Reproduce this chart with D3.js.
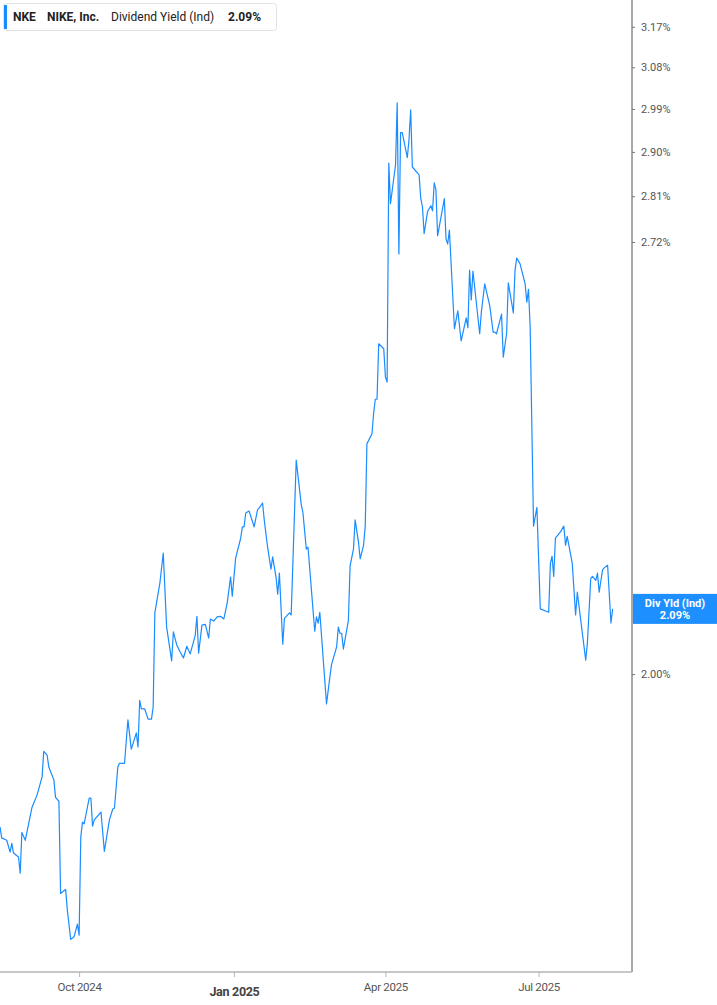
<!DOCTYPE html>
<html lang="en">
	<head>
		<meta charset="utf-8">
		<title>NKE - Dividend Yield (Ind)</title>
		<script src="https://d3js.org/d3.v7.min.js"></script>
		<style type="text/css">
			body {
				margin: 0;
				background: #fff;
			}
			* {
				font-family: Roboto, 'Open Sans', sans-serif;
			}
		</style>
	</head>

	<body>
		<script type="text/javascript">

			//Width and height
			var w = 717;
			var h = 1005;
			var plotRight = 632;
			var plotBottom = 972;

			//daily dividend yield (%)
			var dates = [
				"2024-08-15","2024-08-16","2024-08-19","2024-08-21","2024-08-22","2024-08-23","2024-08-26","2024-08-27","2024-08-28","2024-08-30",
				"2024-09-03","2024-09-06","2024-09-09","2024-09-10","2024-09-12","2024-09-13","2024-09-16","2024-09-17","2024-09-19","2024-09-20",
				"2024-09-23","2024-09-24","2024-09-26","2024-09-28","2024-09-30","2024-10-01","2024-10-02","2024-10-03","2024-10-04","2024-10-07",
				"2024-10-08","2024-10-09","2024-10-10","2024-10-14","2024-10-16","2024-10-19","2024-10-21","2024-10-22","2024-10-24","2024-10-25",
				"2024-10-28","2024-10-30","2024-11-01","2024-11-04","2024-11-05","2024-11-06","2024-11-07","2024-11-09","2024-11-11","2024-11-13",
				"2024-11-14","2024-11-15","2024-11-18","2024-11-20","2024-11-22","2024-11-25","2024-11-26","2024-11-28","2024-11-30","2024-12-02",
				"2024-12-04","2024-12-06","2024-12-09","2024-12-10","2024-12-11","2024-12-13","2024-12-15","2024-12-17","2024-12-18","2024-12-20",
				"2024-12-22","2024-12-24","2024-12-26","2024-12-28","2024-12-30","2024-12-31","2025-01-02","2025-01-05","2025-01-06","2025-01-07",
				"2025-01-08","2025-01-10","2025-01-13","2025-01-15","2025-01-16","2025-01-18","2025-01-19","2025-01-21","2025-01-23","2025-01-24",
				"2025-01-26","2025-01-27","2025-01-28","2025-01-30","2025-01-31","2025-02-03","2025-02-04","2025-02-07","2025-02-10","2025-02-11",
				"2025-02-13","2025-02-14","2025-02-18","2025-02-19","2025-02-20","2025-02-21","2025-02-25","2025-02-27","2025-02-28","2025-03-03",
				"2025-03-04","2025-03-05","2025-03-06","2025-03-07","2025-03-10","2025-03-11","2025-03-13","2025-03-14","2025-03-16","2025-03-17",
				"2025-03-19","2025-03-20","2025-03-21","2025-03-24","2025-03-25","2025-03-26","2025-03-27","2025-03-28","2025-03-31","2025-04-01",
				"2025-04-02","2025-04-03","2025-04-04","2025-04-07","2025-04-08","2025-04-09","2025-04-10","2025-04-11","2025-04-14","2025-04-15",
				"2025-04-16","2025-04-17","2025-04-21","2025-04-22","2025-04-23","2025-04-24","2025-04-26","2025-04-28","2025-04-29","2025-04-30",
				"2025-05-01","2025-05-02","2025-05-06","2025-05-07","2025-05-08","2025-05-09","2025-05-12","2025-05-14","2025-05-16","2025-05-19",
				"2025-05-20","2025-05-21","2025-05-22","2025-05-23","2025-05-27","2025-05-28","2025-05-30","2025-06-02","2025-06-04","2025-06-05",
				"2025-06-06","2025-06-09","2025-06-10","2025-06-12","2025-06-13","2025-06-16","2025-06-17","2025-06-18","2025-06-20","2025-06-23",
				"2025-06-24","2025-06-25","2025-06-26","2025-06-28","2025-06-30","2025-07-02","2025-07-07","2025-07-08","2025-07-09","2025-07-10",
				"2025-07-11","2025-07-14","2025-07-16","2025-07-17","2025-07-18","2025-07-21","2025-07-23","2025-07-24","2025-07-29","2025-07-30",
				"2025-08-01","2025-08-02","2025-08-04","2025-08-05","2025-08-06","2025-08-08","2025-08-09","2025-08-11","2025-08-13","2025-08-14"
			];

			var yields = [
				1.794,1.780,1.777,1.762,1.773,1.761,1.756,1.736,1.787,1.777,
				1.819,1.835,1.859,1.893,1.888,1.872,1.855,1.832,1.827,1.711,
				1.716,1.691,1.656,1.659,1.674,1.661,1.781,1.800,1.798,1.831,
				1.831,1.795,1.803,1.813,1.763,1.803,1.817,1.818,1.872,1.877,
				1.877,1.936,1.896,1.918,1.899,1.963,1.951,1.951,1.937,1.937,
				1.954,2.089,2.134,2.180,2.068,2.019,2.061,2.042,2.032,2.023,
				2.040,2.029,2.056,2.084,2.030,2.071,2.072,2.052,2.080,2.077,
				2.083,2.084,2.080,2.104,2.143,2.114,2.172,2.203,2.221,2.221,
				2.243,2.246,2.221,2.248,2.251,2.259,2.232,2.189,2.155,2.174,
				2.143,2.117,2.149,2.043,2.081,2.089,2.086,2.329,2.256,2.243,
				2.186,2.189,2.062,2.083,2.074,2.090,1.958,1.996,2.014,2.039,
				2.068,2.059,2.059,2.036,2.078,2.160,2.186,2.232,2.197,2.171,
				2.192,2.222,2.356,2.373,2.408,2.432,2.432,2.530,2.521,2.471,
				2.462,2.877,2.795,2.873,3.003,2.697,2.940,2.940,2.888,2.925,
				2.988,2.869,2.853,2.805,2.789,2.736,2.779,2.791,2.781,2.837,
				2.823,2.732,2.805,2.726,2.716,2.743,2.557,2.590,2.535,2.577,
				2.559,2.666,2.610,2.664,2.548,2.588,2.640,2.599,2.551,2.551,
				2.548,2.584,2.506,2.548,2.642,2.586,2.666,2.689,2.678,2.640,
				2.606,2.630,2.560,2.222,2.252,2.095,2.090,2.164,2.175,2.144,
				2.203,2.213,2.222,2.192,2.206,2.164,2.086,2.120,2.020,2.045,
				2.141,2.144,2.138,2.149,2.120,2.154,2.157,2.161,2.074,2.095
			];

			var yTickValues = [3.17, 3.08, 2.99, 2.90, 2.81, 2.72, 2.00];
			var xTickDates = ["2024-10-01", "2025-01-01", "2025-04-01", "2025-07-01"];
			var xTickLabels = ["Oct 2024", "Jan 2025", "Apr 2025", "Jul 2025"];

			var ticker = "NKE";
			var company = "NIKE, Inc.";
			var metric = "Dividend Yield (Ind)";
			var metricShort = "Div Yld (Ind)";
			var lastValue = 2.09;

			var lineColor = "#1a8cff";

			var parseDate = d3.timeParse("%Y-%m-%d");
			var data = dates.map(function(d, i) {
				return { date: parseDate(d), value: yields[i] };
			});

			var xScale = d3.scaleTime()
							.domain([parseDate("2024-08-15"), new Date(2025, 7, 25, 12)])
							.range([0, plotRight]);

			//log scale, the gaps between the price ticks grow towards the bottom
			var yScale = d3.scaleLog()
							.domain([1.618, 3.231])
							.range([plotBottom, 0]);

			//Create SVG element
			var svg = d3.select("body")
						.append("svg")
						.attr("width", w)
						.attr("height", h);

			svg.append("clipPath")
			   .attr("id", "plot-clip")
			   .append("rect")
			   .attr("x", 0)
			   .attr("y", 0)
			   .attr("width", plotRight)
			   .attr("height", plotBottom);

			//the yield line
			var line = d3.line()
						 .x(function(d) { return xScale(d.date); })
						 .y(function(d) { return yScale(d.value); });

			svg.append("path")
			   .datum(data)
			   .attr("clip-path", "url(#plot-clip)")
			   .attr("fill", "none")
			   .attr("stroke", lineColor)
			   .attr("stroke-width", 1.2)
			   .attr("stroke-linejoin", "round")
			   .attr("d", line);

			//right axis
			var yAxis = d3.axisRight(yScale)
						  .tickValues(yTickValues)
						  .tickSize(3)
						  .tickPadding(6)
						  .tickFormat(function(d) { return d.toFixed(2) + "%"; });

			var yAxisG = svg.append("g")
							.attr("transform", "translate(" + plotRight + ",0)")
							.call(yAxis);
			yAxisG.select(".domain")
				  .attr("stroke", "#8a8a8a")
				  .attr("stroke-width", 1.5)
				  .attr("d", "M0,0V" + plotBottom);
			yAxisG.selectAll(".tick line").attr("stroke", "#777");
			yAxisG.selectAll(".tick text")
				  .attr("fill", "#555")
				  .style("font-size", "11px");

			//bottom axis
			var xAxis = d3.axisBottom(xScale)
						  .tickValues(xTickDates.map(parseDate))
						  .tickSize(5)
						  .tickPadding(6)
						  .tickFormat(function(d, i) { return xTickLabels[i]; });

			var xAxisG = svg.append("g")
							.attr("transform", "translate(0," + plotBottom + ")")
							.call(xAxis);
			xAxisG.select(".domain")
				  .attr("stroke", "#b5b5b5")
				  .attr("stroke-width", 1.5)
				  .attr("d", "M0,0H" + plotRight);
			xAxisG.selectAll(".tick line").attr("stroke", "#b5b5b5");
			xAxisG.selectAll(".tick text")
				  .attr("fill", "#555")
				  .style("font-size", "11.5px")
				  .style("letter-spacing", "-0.3px");
			//year start gets the bold label
			xAxisG.selectAll(".tick text")
				  .filter(function(d) { return d.getMonth() === 0; })
				  .attr("fill", "#444")
				  .style("font-size", "12.5px")
				  .style("font-weight", "bold")
				  .attr("dy", "1.0em");

			//last value flag on the axis
			var lastY = yScale(yields[yields.length - 1]);
			var flag = svg.append("g")
						  .attr("transform", "translate(" + plotRight + "," + lastY + ")");
			flag.append("rect")
				.attr("x", 1)
				.attr("y", -15)
				.attr("width", w - plotRight)
				.attr("height", 30)
				.attr("fill", "#1e8fff");
			flag.append("text")
				.attr("x", 43)
				.attr("y", -2)
				.attr("text-anchor", "middle")
				.attr("fill", "#fff")
				.style("font-size", "11px")
				.style("font-weight", "bold")
				.text(metricShort);
			flag.append("text")
				.attr("x", 43)
				.attr("y", 10)
				.attr("text-anchor", "middle")
				.attr("fill", "#fff")
				.style("font-size", "11px")
				.style("font-weight", "bold")
				.text(lastValue.toFixed(2) + "%");

			//legend box top left
			var legend = svg.append("g");
			legend.append("rect")
				  .attr("x", 3.5)
				  .attr("y", 3.5)
				  .attr("width", 273)
				  .attr("height", 27)
				  .attr("rx", 3)
				  .attr("fill", "#fff")
				  .attr("stroke", "#e2e2e2");
			legend.append("rect")
				  .attr("x", 4)
				  .attr("y", 5)
				  .attr("width", 3)
				  .attr("height", 24)
				  .attr("fill", lineColor);

			var legendItems = [
				{ text: ticker, x: 13, bold: true },
				{ text: company, x: 47, bold: true },
				{ text: metric, x: 111, bold: false },
				{ text: lastValue.toFixed(2) + "%", x: 228, bold: true }
			];
			legend.selectAll("text")
				  .data(legendItems)
				  .enter()
				  .append("text")
				  .attr("x", function(d) { return d.x; })
				  .attr("y", 21)
				  .attr("fill", "#222")
				  .style("font-size", "12px")
				  .style("font-weight", function(d) { return d.bold ? "bold" : "normal"; })
				  .text(function(d) { return d.text; });
		</script>
	</body>
</html>
